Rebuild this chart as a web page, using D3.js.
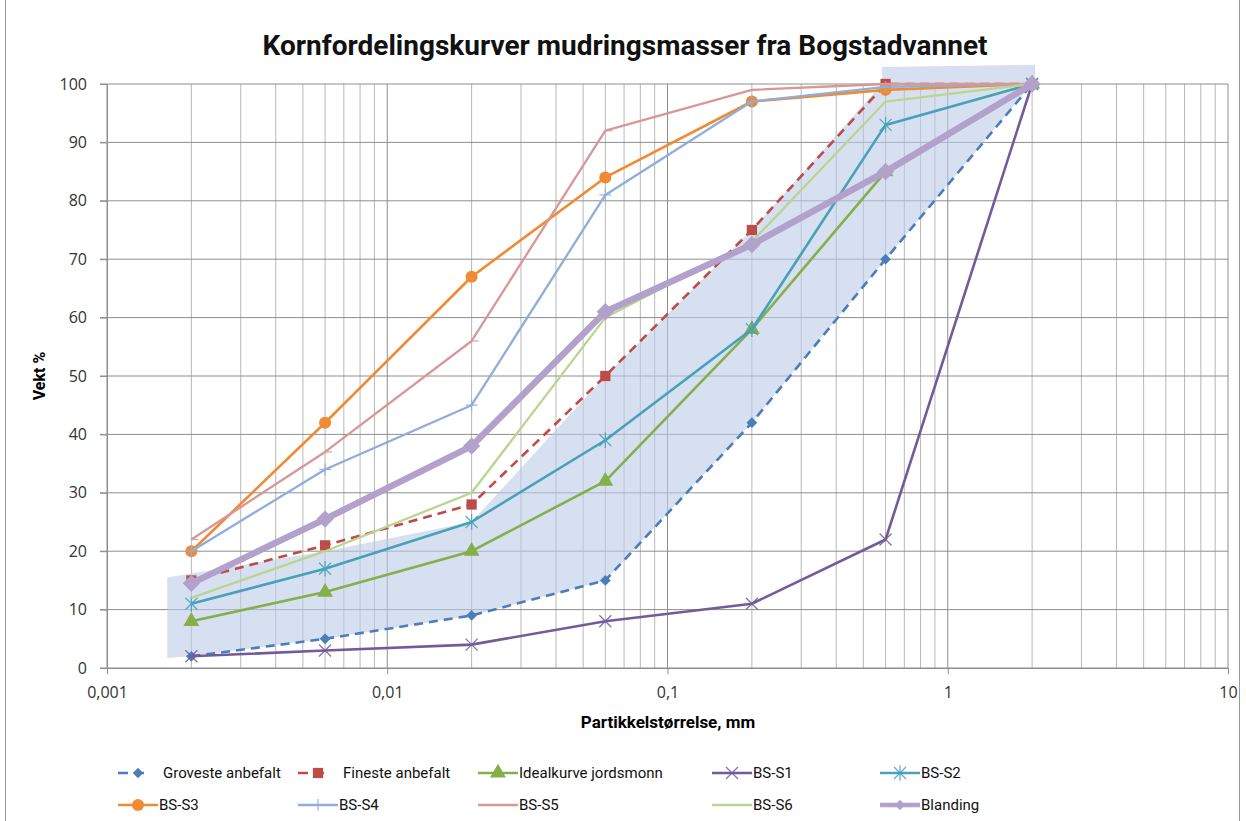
<!DOCTYPE html>
<html lang="no">
<head>
<meta charset="UTF-8">
<title>Kornfordelingskurver mudringsmasser fra Bogstadvannet</title>
<style>
  body { margin: 0; background: #fff; }
  svg { display: block; font-family: Roboto, "Open Sans", sans-serif; }
</style>
</head>
<body>
<div id="chart"></div>
<script src="https://d3js.org/d3.v7.min.js"></script>
<script>
// particle sizes (mm) and passing weight %
const sizes = [0.002, 0.006, 0.02, 0.06, 0.2, 0.6, 2];
const groveste = [2, 5, 9, 15, 42, 70, 100];
const fineste = [15, 21, 28, 50, 75, 100, 100];
const ideal = [8, 13, 20, 32, 58, 85, 100];
const bsS1 = [2, 3, 4, 8, 11, 22, 100];
const bsS2 = [11, 17, 25, 39, 58, 93, 100];
const bsS3 = [20, 42, 67, 84, 97, 99, 100];
const bsS4 = [20, 34, 45, 81, 97, 99.5, 100];
const bsS5 = [22, 37, 56, 92, 99, 100, 100];
const bsS6 = [12, 20, 30, 60, 73, 97, 100];
const blanding = [14.5, 25.5, 38, 61, 72.5, 85, 100];

const seriesNames = ["Groveste anbefalt", "Fineste anbefalt", "Idealkurve jordsmonn", "BS-S1", "BS-S2",
                     "BS-S3", "BS-S4", "BS-S5", "BS-S6", "Blanding"];
const seriesValues = [groveste, fineste, ideal, bsS1, bsS2, bsS3, bsS4, bsS5, bsS6, blanding];

// recommended band (hand drawn shape in the original)
const shadeX = [0.00164, 0.006, 0.02, 0.06, 0.2, 0.582, 0.582, 2.05, 2.05, 2, 0.6, 0.2, 0.06, 0.02, 0.006, 0.002, 0.00164];
const shadeY = [15.5, 20, 25, 50, 75, 100, 102.9, 103.3, 100, 100, 70, 42, 15, 9, 5, 2, 1.7];

const xTickValues = [0.001, 0.01, 0.1, 1, 10];
const xTickLabels = ["0,001", "0,01", "0,1", "1", "10"];
const yTickValues = [0, 10, 20, 30, 40, 50, 60, 70, 80, 90, 100];

// look of each series
const styles = {
  "Groveste anbefalt":    { color: "#4A7EBB", width: 2.6, dash: "9,6", marker: "diamond", size: 58 },
  "Fineste anbefalt":     { color: "#BE4B48", width: 2.6, dash: "9,6", marker: "square", size: 105 },
  "Idealkurve jordsmonn": { color: "#86AE4A", width: 2.6, dash: null, marker: "triangle", size: 110 },
  "BS-S1":                { color: "#735A9A", width: 2.6, dash: null, marker: "cross", size: 6 },
  "BS-S2":                { color: "#46A1B9", width: 2.6, dash: null, marker: "star", size: 6 },
  "BS-S3":                { color: "#EE8B34", width: 2.6, dash: null, marker: "circle", size: 115 },
  "BS-S4":                { color: "#8FAEDA", width: 2.3, dash: null, marker: "plus", size: 6 },
  "BS-S5":                { color: "#D99795", width: 2.3, dash: null, marker: "dash", size: 5 },
  "BS-S6":                { color: "#B9D58F", width: 2.3, dash: null, marker: null, size: 0 },
  "Blanding":             { color: "#B2A1CB", width: 6.5, dash: null, marker: "diamond", size: 150 }
};

const W = 1246, H = 821;
const margin = { top: 84, right: 18, bottom: 153, left: 107 };
const width = W - margin.left - margin.right;
const height = H - margin.top - margin.bottom;

const x = d3.scaleLog().domain([0.001, 10]).range([0, width]);
const y = d3.scaleLinear().domain([0, 100]).range([height, 0]);

const svg = d3.select("#chart").append("svg")
  .attr("width", W)
  .attr("height", H);

// outer frame
svg.append("rect")
  .attr("x", 5.5).attr("y", -2)
  .attr("width", 1234).attr("height", H + 4)
  .attr("fill", "none")
  .attr("stroke", "#9a9a9a");

svg.append("text")
  .attr("x", 625).attr("y", 55)
  .attr("text-anchor", "middle")
  .style("font-size", "28px")
  .style("font-weight", "bold")
  .attr("fill", "#111")
  .text("Kornfordelingskurver mudringsmasser fra Bogstadvannet");

const g = svg.append("g")
  .attr("transform", `translate(${margin.left},${margin.top})`);

// vertical gridlines (log minor + decades)
g.selectAll(".vgrid")
  .data(x.ticks())
  .join("line")
  .attr("x1", d => x(d)).attr("x2", d => x(d))
  .attr("y1", 0).attr("y2", height)
  .attr("stroke", d => xTickValues.includes(d) ? "#8e8e8e" : "#b8b8b8")
  .attr("stroke-width", 1);

// horizontal gridlines
g.selectAll(".hgrid")
  .data(yTickValues)
  .join("line")
  .attr("x1", -7).attr("x2", width)
  .attr("y1", d => y(d)).attr("y2", d => y(d))
  .attr("stroke", "#8e8e8e")
  .attr("stroke-width", 1);

// y axis
g.append("g")
  .call(d3.axisLeft(y).tickValues(yTickValues).tickSize(7).tickPadding(13))
  .call(a => a.select(".domain").attr("stroke", "#8e8e8e"))
  .call(a => a.selectAll(".tick line").attr("stroke", "#8e8e8e"))
  .call(a => a.selectAll(".tick text").attr("fill", "#333").style("font-size", "16px").style("font-family", "'Open Sans', sans-serif"));

// x axis
g.append("g")
  .attr("transform", `translate(0,${height})`)
  .call(d3.axisBottom(x).tickValues(xTickValues).tickFormat((d, i) => xTickLabels[i]).tickSize(6).tickPadding(13))
  .call(a => a.select(".domain").attr("stroke", "#8e8e8e"))
  .call(a => a.selectAll(".tick line").attr("stroke", "#8e8e8e"))
  .call(a => a.selectAll(".tick text").attr("fill", "#333").style("font-size", "16px").style("font-family", "'Open Sans', sans-serif"));

svg.append("text")
  .attr("transform", `translate(45,${margin.top + height / 2}) rotate(-90)`)
  .attr("text-anchor", "middle")
  .style("font-size", "16px")
  .style("font-weight", "bold")
  .text("Vekt %");

svg.append("text")
  .attr("x", 668).attr("y", 728)
  .attr("text-anchor", "middle")
  .style("font-size", "17px")
  .style("font-weight", "bold")
  .text("Partikkelstørrelse, mm");

// shaded band
const shadePts = shadeX.map((v, i) => [x(v), y(shadeY[i])]);
g.append("path")
  .attr("d", d3.line()(shadePts) + "Z")
  .attr("fill", "#BCCBE6")
  .attr("fill-opacity", 0.6);

function markerPath(type, size) {
  const s = size;
  if (type === "diamond") return d3.symbol(d3.symbolSquare, size)();
  if (type === "square") return d3.symbol(d3.symbolSquare, size)();
  if (type === "triangle") return d3.symbol(d3.symbolTriangle, size)();
  if (type === "circle") return d3.symbol(d3.symbolCircle, size)();
  if (type === "cross") return `M${-s},${-s}L${s},${s}M${-s},${s}L${s},${-s}`;
  if (type === "star") return `M${-s},${-s}L${s},${s}M${-s},${s}L${s},${-s}M0,${-s * 1.3}V${s * 1.3}`;
  if (type === "plus") return `M${-s},0H${s}M0,${-s}V${s}`;
  if (type === "dash") return `M0,0H${s + 2}`;
  return "";
}
const strokeMarkers = ["cross", "star", "plus", "dash"];

function drawMarker(sel, st, px, py) {
  if (!st.marker) return;
  const p = sel.append("path")
    .attr("d", markerPath(st.marker, st.size))
    .attr("transform", `translate(${px},${py})` + (st.marker === "diamond" ? " rotate(45)" : ""));
  if (strokeMarkers.includes(st.marker)) {
    p.attr("fill", "none").attr("stroke", st.color).attr("stroke-width", 1.3).attr("stroke-opacity", 0.85);
  } else {
    p.attr("fill", st.color);
  }
}

const line = d3.line()
  .x(d => x(d[0]))
  .y(d => y(d[1]));

seriesNames.forEach((name, si) => {
  const st = styles[name];
  const pts = sizes.map((s, i) => [s, seriesValues[si][i]]);
  const sg = g.append("g");
  sg.append("path")
    .datum(pts)
    .attr("d", line)
    .attr("fill", "none")
    .attr("stroke", st.color)
    .attr("stroke-width", st.width)
    .attr("stroke-dasharray", st.dash)
    .attr("stroke-linejoin", "round");
  pts.forEach(p => drawMarker(sg, st, x(p[0]), y(p[1])));
});

// legend
const legCols = [118, 298, 478, 712, 880];
const legRows = [773, 805];
const legend = svg.append("g");
seriesNames.forEach((name, i) => {
  const st = styles[name];
  const lx = legCols[i % 5], ly = legRows[Math.floor(i / 5)];
  const len = st.dash ? 30 : 40;
  const item = legend.append("g");
  item.append("line")
    .attr("x1", lx).attr("x2", lx + len)
    .attr("y1", ly).attr("y2", ly)
    .attr("stroke", st.color)
    .attr("stroke-width", Math.min(st.width, 4.5))
    .attr("stroke-dasharray", st.dash ? "10,6" : null);
  drawMarker(item, Object.assign({}, st, { size: st.marker === "diamond" ? Math.min(st.size, 55) : st.size }), lx + 20, ly);
  item.append("text")
    .attr("x", st.dash ? lx + 45 : lx + 41)
    .attr("y", ly + 5)
    .style("font-size", "15px")
    .attr("fill", "#111")
    .text(name);
});
</script>
</body>
</html>
